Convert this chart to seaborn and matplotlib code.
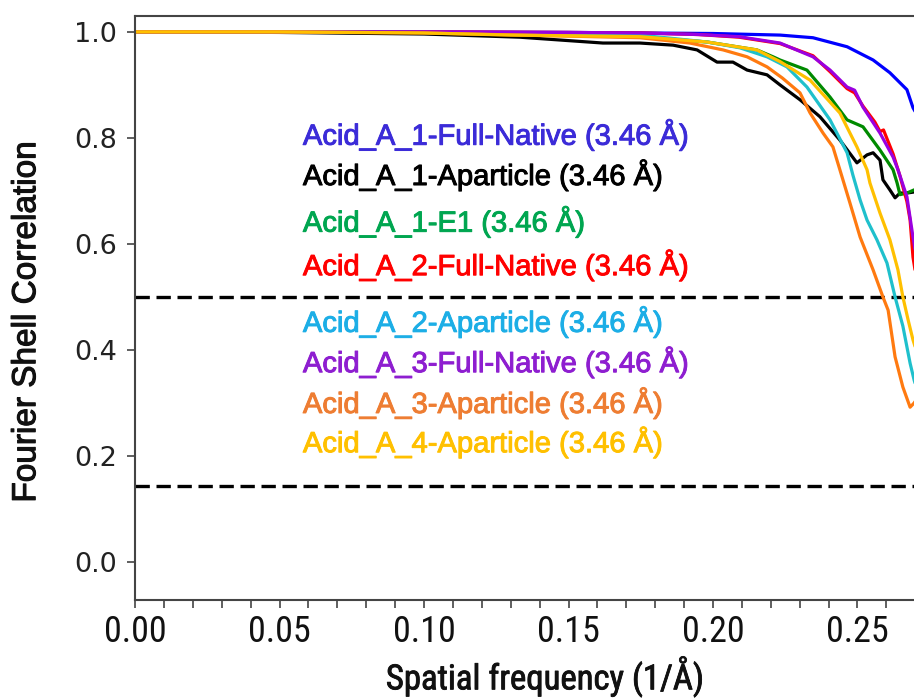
import matplotlib
matplotlib.use("Agg")
import matplotlib.pyplot as plt
import matplotlib.patheffects as pe
import seaborn as sns
import pandas as pd
from matplotlib import font_manager as fm
from matplotlib.ticker import MultipleLocator, FormatStrFormatter

# ---------------- data ----------------
series = [
    "Acid_A_1-Full-Native", "Acid_A_1-Aparticle", "Acid_A_1-E1",
    "Acid_A_2-Full-Native", "Acid_A_2-Aparticle", "Acid_A_3-Full-Native",
    "Acid_A_3-Aparticle", "Acid_A_4-Aparticle",
]
resolution_label = "(3.46 Å)"

freq_1_full = [0.000, 0.050, 0.100, 0.150, 0.175, 0.200, 0.2232, 0.2346, 0.2464, 0.2554, 0.2612, 0.2671, 0.2692, 0.2720]
fsc_1_full = [1.000, 1.000, 1.000, 0.999, 0.998, 0.997, 0.994, 0.989, 0.972, 0.947, 0.923, 0.891, 0.857, 0.830]

freq_1_apart = [0.000, 0.050, 0.100, 0.1332, 0.1619, 0.1747, 0.1862, 0.1945, 0.2014, 0.2069, 0.2118, 0.2187,
                0.2232, 0.2301, 0.2370, 0.2439, 0.2498, 0.2533, 0.2554, 0.2578, 0.2588, 0.2612, 0.2630,
                0.2647, 0.2671, 0.2696, 0.2720]
fsc_1_apart = [1.000, 0.999, 0.996, 0.990, 0.979, 0.979, 0.975, 0.966, 0.943, 0.943, 0.928, 0.919,
               0.900, 0.872, 0.840, 0.796, 0.753, 0.768, 0.772, 0.758, 0.721, 0.702, 0.687,
               0.696, 0.696, 0.698, 0.700]

freq_1_e1 = [0.000, 0.050, 0.100, 0.130, 0.1747, 0.1979, 0.2152, 0.2208, 0.2232, 0.2325, 0.2405, 0.2464,
             0.2519, 0.2578, 0.2623, 0.2637, 0.2647, 0.2671, 0.2696, 0.2720]
fsc_1_e1 = [1.000, 1.000, 0.999, 0.996, 0.991, 0.981, 0.966, 0.953, 0.947, 0.928, 0.877, 0.834,
            0.821, 0.777, 0.740, 0.715, 0.693, 0.696, 0.702, 0.700]

freq_2_full = [0.000, 0.050, 0.100, 0.150, 0.175, 0.195, 0.209, 0.2232, 0.2346, 0.2405, 0.2464, 0.2490,
               0.2519, 0.2560, 0.2578, 0.2590, 0.2623, 0.2647, 0.2671, 0.2682, 0.2692, 0.2720]
fsc_2_full = [1.000, 1.000, 1.000, 0.999, 0.998, 0.995, 0.990, 0.978, 0.955, 0.925, 0.893, 0.885,
              0.860, 0.830, 0.812, 0.815, 0.770, 0.728, 0.680, 0.645, 0.575, 0.480]

freq_2_apart = [0.000, 0.050, 0.100, 0.130, 0.1747, 0.1979, 0.2093, 0.2187, 0.2256, 0.2325, 0.2405, 0.2464,
                0.2484, 0.2509, 0.2533, 0.2567, 0.2602, 0.2630, 0.2657, 0.2682, 0.2696, 0.2720]
fsc_2_apart = [1.000, 1.000, 0.999, 0.996, 0.994, 0.981, 0.970, 0.953, 0.934, 0.896, 0.834, 0.772,
               0.730, 0.683, 0.645, 0.608, 0.564, 0.500, 0.445, 0.375, 0.343, 0.300]

freq_3_full = [0.000, 0.050, 0.100, 0.150, 0.175, 0.195, 0.209, 0.2232, 0.2346, 0.2405, 0.2464, 0.2490,
               0.2519, 0.2578, 0.2623, 0.2640, 0.2671, 0.2692, 0.2720]
fsc_3_full = [1.000, 1.000, 1.000, 0.999, 0.998, 0.995, 0.991, 0.979, 0.953, 0.928, 0.896, 0.890,
              0.858, 0.809, 0.764, 0.740, 0.689, 0.613, 0.520]

freq_3_apart = [0.000, 0.050, 0.100, 0.1332, 0.1747, 0.1920, 0.2035, 0.2118, 0.2187, 0.2240, 0.2301, 0.2336,
                0.2381, 0.2415, 0.2439, 0.2474, 0.2509, 0.2554, 0.2588, 0.2606, 0.2630, 0.2657, 0.2682,
                0.2696, 0.2720]
fsc_3_apart = [1.000, 1.000, 0.998, 0.994, 0.989, 0.979, 0.966, 0.953, 0.934, 0.913, 0.885, 0.847,
               0.809, 0.783, 0.740, 0.677, 0.613, 0.551, 0.500, 0.475, 0.387, 0.330, 0.292,
               0.300, 0.320]

freq_4_apart = [0.000, 0.050, 0.100, 0.130, 0.1747, 0.1979, 0.2152, 0.2232, 0.2336, 0.2439, 0.2498, 0.2533,
                0.2543, 0.2578, 0.2612, 0.2640, 0.2657, 0.2675, 0.2692, 0.2720]
fsc_4_apart = [1.000, 1.000, 0.998, 0.994, 0.991, 0.981, 0.966, 0.944, 0.909, 0.847, 0.783, 0.740,
               0.715, 0.658, 0.608, 0.551, 0.500, 0.457, 0.419, 0.370]

thresholds = [0.5, 0.143]
x_ticks = [0.00, 0.05, 0.10, 0.15, 0.20, 0.25]
y_ticks = [0.0, 0.2, 0.4, 0.6, 0.8, 1.0]

line_colors = ["#0000FF", "#000000", "#008A00", "#FF0000", "#1FC0CC", "#9A00E0", "#FF7A10", "#FFC000"]
text_colors = ["#3B2BD8", "#000000", "#00A650", "#FF0000", "#1CAEE6", "#8E1ED0", "#EE7D32", "#FFC000"]
text_y = [0.806, 0.730, 0.642, 0.560, 0.453, 0.377, 0.300, 0.226]

all_freq = [freq_1_full, freq_1_apart, freq_1_e1, freq_2_full, freq_2_apart, freq_3_full, freq_3_apart, freq_4_apart]
all_fsc = [fsc_1_full, fsc_1_apart, fsc_1_e1, fsc_2_full, fsc_2_apart, fsc_3_full, fsc_3_apart, fsc_4_apart]

rows = []
for name, fr, fs in zip(series, all_freq, all_fsc):
    for a, b in zip(fr, fs):
        rows.append({"series": name, "freq": a, "fsc": b})
df = pd.DataFrame(rows)

# ---------------- style ----------------
sns.set_style("ticks")
names = {f.name for f in fm.fontManager.ttflist}
narrow = "Roboto Condensed" if "Roboto Condensed" in names else "Liberation Sans"
narrow_scale = 1.0 if narrow == "Roboto Condensed" else 0.8
plt.rcParams["font.family"] = ["DejaVu Sans"]

fig = plt.figure(figsize=(9.14, 6.98), dpi=100)
ax = fig.add_axes([135 / 914, 98 / 698, 867 / 914, 584 / 698])

sns.lineplot(data=df, x="freq", y="fsc", hue="series", hue_order=series,
             palette=dict(zip(series, line_colors)), estimator=None, sort=False,
             linewidth=2.3, legend=False, ax=ax)

for t in thresholds:
    ax.axhline(t, color="black", linewidth=2.4, linestyle=(0, (4.3, 2.0)), zorder=1)

for name, c, y in zip(series, text_colors, text_y):
    ax.text(0.0581, y, f"{name} {resolution_label}", color=c, fontsize=21,
            family=["Liberation Sans", "DejaVu Sans"], va="center", ha="left",
            path_effects=[pe.withStroke(linewidth=0.7, foreground=c)])

ax.set_xlim(0.0, 0.30)
ax.set_ylim(-0.0717, 1.030)

ax.xaxis.set_major_locator(MultipleLocator(0.05))
ax.xaxis.set_minor_locator(MultipleLocator(0.01))
ax.set_xticks(x_ticks)
ax.set_yticks(y_ticks)
ax.xaxis.set_major_formatter(FormatStrFormatter("%.2f"))
ax.yaxis.set_major_formatter(FormatStrFormatter("%.1f"))

for s in ax.spines.values():
    s.set_color("#444444")
    s.set_linewidth(1.5)

ax.tick_params(axis="x", which="both", direction="out", length=6, width=1.2, color="#444444", pad=4)
ax.tick_params(axis="y", which="major", direction="out", length=6, width=1.2, color="#444444", pad=7)
for lab in ax.get_xticklabels():
    lab.set_fontfamily(narrow)
    lab.set_fontsize(26 * narrow_scale)
    lab.set_color("#111111")
for lab in ax.get_yticklabels():
    lab.set_fontfamily("DejaVu Sans")
    lab.set_fontsize(19.5)
    lab.set_color("#222222")

ax.set_xlabel("Spatial frequency (1/Å)", fontfamily=narrow, fontsize=25 * narrow_scale,
              fontweight="normal", color="#111111",
              path_effects=[pe.withStroke(linewidth=0.6, foreground="#111111")])
ax.set_ylabel("Fourier Shell Correlation", fontfamily="Liberation Sans", fontsize=24, color="#111111",
              path_effects=[pe.withStroke(linewidth=0.8, foreground="#111111")])
ax.xaxis.set_label_coords(0.473, -0.095)
ax.yaxis.set_label_coords(-0.107, 0.476)

fig.savefig("out.png", dpi=100)
